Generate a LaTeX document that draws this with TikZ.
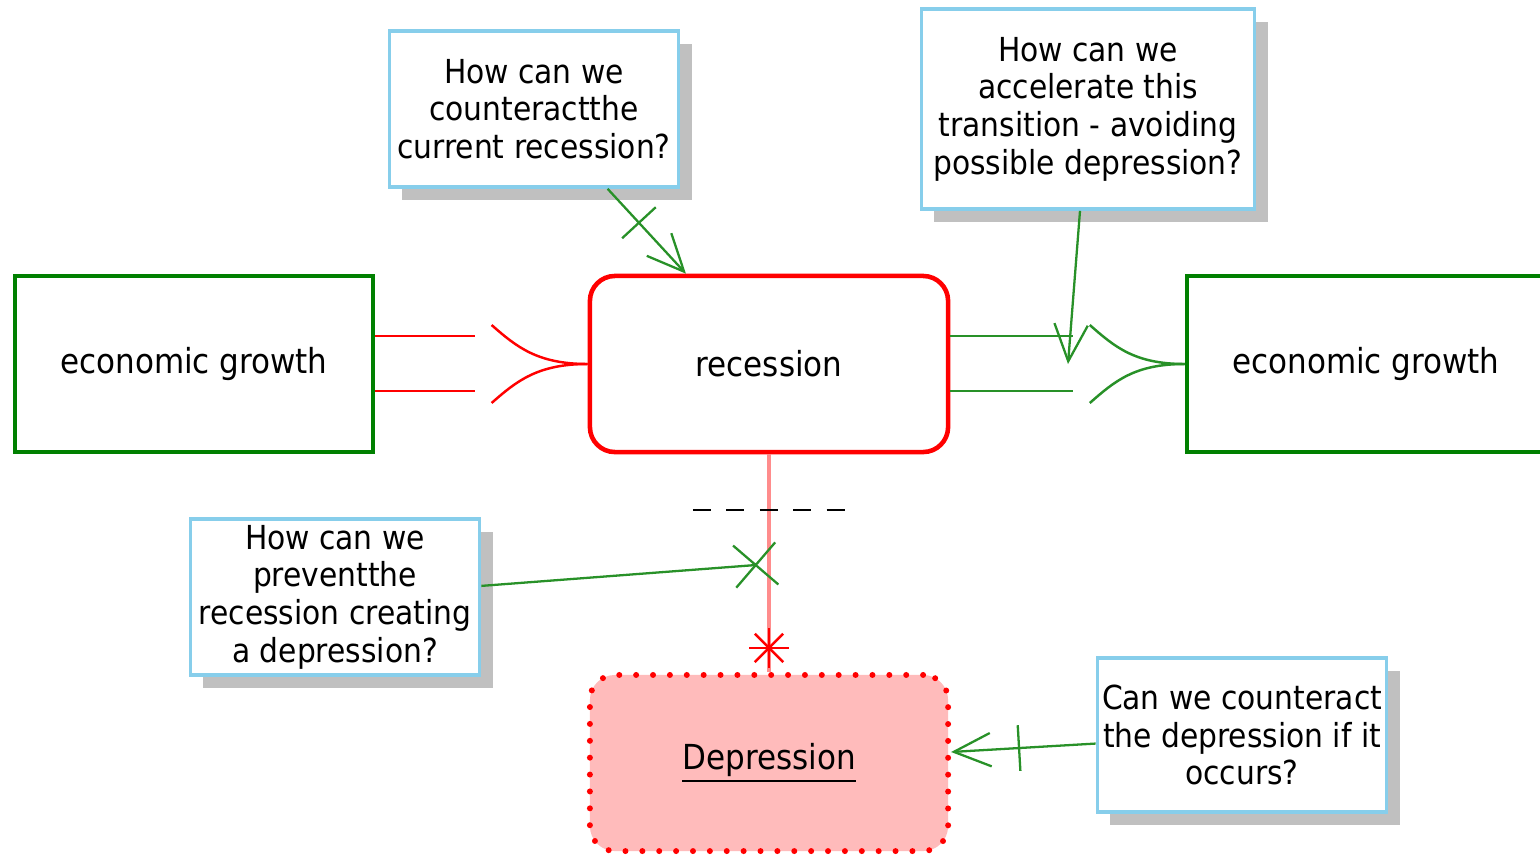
\documentclass[tikz,border=0pt]{standalone}
\usepackage{fontspec}
\setmainfont{DejaVu Sans Condensed}
\usetikzlibrary{arrows.meta,shadows,decorations.markings}

\definecolor{boxgreen}{RGB}{0,128,0}
\definecolor{linkgreen}{RGB}{40,145,40}
\definecolor{qblue}{RGB}{135,206,235}
\definecolor{shade}{RGB}{192,192,192}
\definecolor{lightred}{RGB}{255,187,187}

\begin{document}
\begin{tikzpicture}[x=0.01cm,y=-0.01cm,
		every node/.style={font=\fontsize{9.8}{11}\selectfont},
		state/.style={draw,line width=1.2pt,minimum width=3.58cm,minimum height=1.76cm},
		question/.style={draw=qblue,line width=1pt,fill=white,align=center,inner sep=1pt,
			font=\fontsize{9.4}{10.7}\selectfont,
			drop shadow={shadow xshift=.13cm,shadow yshift=-.13cm,fill=shade,opacity=1}},
		redlink/.style={red,line width=.7pt},
		greenlink/.style={linkgreen,line width=.7pt},
		qlink/.style={linkgreen,line width=.65pt,-{Straight Barb[length=10.5pt,width=9.5pt]}},
		bar at/.style={postaction=decorate,decoration={markings,
				mark=at position #1 with {\draw[-] (0,-6.5pt) -- (0,6.5pt);}}},
		cross at/.style={postaction=decorate,decoration={markings,
				mark=at position #1 with {\draw[-] (-6pt,-6pt) -- (6pt,6pt) (-6pt,6pt) -- (6pt,-6pt);}}},
		star at/.style={postaction=decorate,decoration={markings,
				mark=at position #1 with {\foreach \a in {0,45,...,315} \draw[-,red,line width=.7pt] (0,0) -- (\a:5.7pt);}}}
	]

	\path[use as bounding box,fill=white] (0,0) rectangle (1540,854);

	\node[state,draw=boxgreen] (growth) at (194,364) {economic growth};
	\node[state,draw=red,line width=1.3pt,rounded corners=.25cm] (recession) at (769,364) {recession};
	\node[state,draw=boxgreen] (growth2) at (1366,364) {economic growth};
	\node[state,draw=red,fill=lightred,rounded corners=.25cm,line width=1.7pt,
		dash pattern=on 0pt off 4.8pt,line cap=round] (depression) at (769,763) {\underline{Depression}};

	\node[question,minimum width=2.89cm,minimum height=1.56cm] (q1) at (534,109)
		{How can we\\counteractthe\\current recession?};
	\node[question,minimum width=3.33cm,minimum height=2cm] (q2) at (1088,109)
		{How can we\\accelerate this\\transition - avoiding\\possible depression?};
	\node[question,minimum width=2.89cm,minimum height=1.56cm] (q3) at (335,597)
		{How can we\\preventthe\\recession creating\\a depression?};
	\node[question,minimum width=2.89cm,minimum height=1.54cm] (q4) at (1242,735)
		{Can we counteract\\the depression if it\\occurs?};

	\coordinate (transition) at (1068,364);
	\coordinate (block) at (756,565);
	\coordinate (cut) at (769,510);

	% growth -> recession
	\draw[redlink] ([yshift=.28cm]growth.east) -- ++(100,0);
	\draw[redlink] ([yshift=-.27cm]growth.east) -- ++(100,0);
	\draw[redlink] (recession.west) .. controls +(-50,0) and +(25,22) .. +(-96,-39);
	\draw[redlink] (recession.west) .. controls +(-50,0) and +(25,-22) .. +(-96,39);

	% recession -> growth
	\draw[greenlink] ([yshift=.28cm]recession.east) -- ++(123,0);
	\draw[greenlink] ([yshift=-.27cm]recession.east) -- ++(123,0);
	\draw[greenlink] (growth2.west) .. controls +(-50,0) and +(25,22) .. +(-95,-39);
	\draw[greenlink] (growth2.west) .. controls +(-50,0) and +(25,-22) .. +(-95,39);

	% recession -> depression
	\draw[red!45,line width=1.3pt,star at=-.24cm] (recession) -- (depression);
	\draw[dash pattern=on 5.1pt off 4.4pt,line width=.7pt] ([xshift=-.76cm]cut) -- ([xshift=.76cm]cut);

	\draw[qlink,bar at=.4] (q1) -- ([xshift=-.83cm]recession.north);
	\draw[qlink] ([xshift=-.08cm]q2.south) -- (transition);
	\draw[greenlink,line width=.65pt,cross at=.999] (q3) -- (block);
	\draw[qlink,bar at=.53] (q4) -- ([yshift=.11cm]depression.east);

\end{tikzpicture}
\end{document}
